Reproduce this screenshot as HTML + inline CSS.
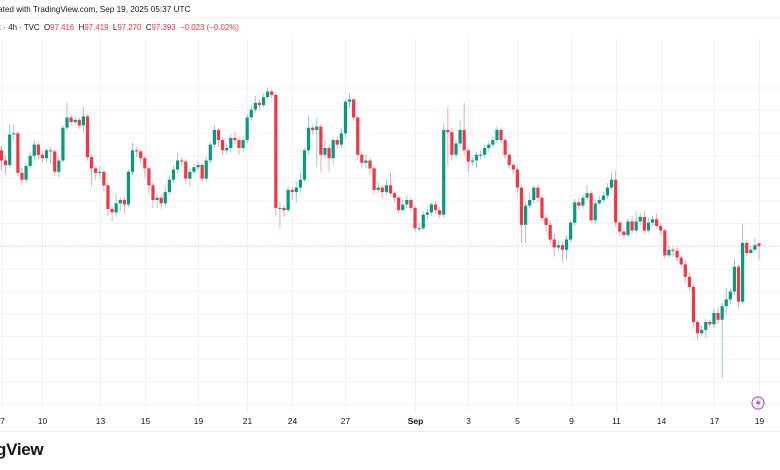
<!DOCTYPE html>
<html><head><meta charset="utf-8"><style>
html,body{margin:0;padding:0;background:#fff;}
#wrap{position:relative;width:780px;height:470px;overflow:hidden;font-family:"Liberation Sans",sans-serif;}
.hdr{position:absolute;left:0;white-space:nowrap;font-size:8px;color:#131722;}
</style></head><body>
<div id="wrap">
<div class="hdr" style="top:5px;left:-2px;font-size:8.2px;">ated with TradingView.com, Sep 19, 2025 05:37 UTC</div>
<div style="position:absolute;left:0;top:17px;width:780px;height:1px;background:#eef0f4;"></div>
<div class="hdr" style="top:23px;left:-1px;font-size:7.9px;">: · 4h · TVC&nbsp; O<span style="color:#f23645">97.416</span>&nbsp; H<span style="color:#f23645">97.419</span>&nbsp; L<span style="color:#f23645">97.270</span>&nbsp; C<span style="color:#f23645">97.393</span>&nbsp; <span style="color:#f23645">−0.023 (−0.02%)</span></div>
<svg id="chart" width="780" height="470" style="position:absolute;left:0;top:0;"></svg>
<div style="position:absolute;left:-4px;top:440px;font-size:17px;font-weight:bold;color:#131722;letter-spacing:-0.3px;">gView</div>
</div>
<script>
const opens=[98.24,98.15,98.11,98.38,98.39,98.04,97.98,98.10,98.19,98.29,98.20,98.17,98.24,98.23,98.05,98.15,98.44,98.53,98.49,98.51,98.46,98.54,98.18,98.08,98.04,98.05,97.93,97.72,97.69,97.77,97.80,97.76,98.05,98.24,98.23,98.17,98.08,97.93,97.80,97.82,97.77,97.87,97.98,98.07,98.15,98.14,97.99,98.05,98.09,98.11,97.99,98.15,98.29,98.42,98.33,98.24,98.26,98.35,98.33,98.26,98.33,98.53,98.60,98.66,98.64,98.71,98.76,98.73,97.73,97.73,97.71,97.89,97.87,97.91,97.98,98.24,98.44,98.42,98.45,98.20,98.26,98.17,98.33,98.29,98.39,98.67,98.69,98.53,98.20,98.13,98.15,98.08,97.89,97.91,97.87,97.93,97.86,97.82,97.71,97.76,97.80,97.73,97.55,97.55,97.67,97.69,97.76,97.71,97.67,98.42,98.40,98.20,98.30,98.42,98.24,98.14,98.15,98.20,98.20,98.26,98.29,98.33,98.42,98.33,98.20,98.11,98.07,97.91,97.58,97.75,97.80,97.91,97.82,97.64,97.58,97.45,97.38,97.40,97.36,97.45,97.60,97.78,97.75,97.82,97.86,97.62,97.77,97.80,97.84,97.91,97.98,97.60,97.52,97.49,97.61,97.53,97.61,97.65,97.53,97.60,97.63,97.57,97.53,97.31,97.36,97.35,97.29,97.23,97.12,97.03,96.72,96.62,96.65,96.72,96.70,96.80,96.74,96.86,96.92,96.99,97.21,96.90,97.42,97.33,97.36,97.416];
const highs=[98.28,98.19,98.47,98.47,98.41,98.08,98.13,98.22,98.33,98.31,98.23,98.26,98.27,98.25,98.18,98.46,98.66,98.56,98.54,98.53,98.63,98.56,98.20,98.10,98.10,98.07,97.95,97.75,97.85,97.82,97.83,98.07,98.31,98.27,98.25,98.19,98.10,97.95,97.86,97.85,97.92,98.02,98.10,98.22,98.18,98.16,98.08,98.12,98.14,98.13,98.18,98.32,98.46,98.44,98.35,98.30,98.38,98.40,98.36,98.36,98.56,98.64,98.72,98.69,98.74,98.79,98.78,98.75,97.78,97.76,97.92,97.91,97.96,98.05,98.26,98.55,98.46,98.53,98.47,98.33,98.28,98.35,98.36,98.44,98.69,98.74,98.70,98.55,98.22,98.20,98.17,98.10,97.96,97.93,97.98,98.05,97.88,97.84,97.80,97.84,97.82,97.75,97.60,97.70,97.72,97.78,97.79,97.74,98.48,98.62,98.44,98.33,98.50,98.66,98.26,98.18,98.22,98.24,98.29,98.32,98.36,98.45,98.44,98.35,98.22,98.13,98.08,97.93,97.78,97.86,97.93,97.94,97.84,97.67,97.62,97.50,97.44,97.43,97.49,97.62,97.81,97.82,97.85,97.93,97.88,97.80,97.84,97.87,97.95,98.05,98.06,97.62,97.55,97.64,97.66,97.70,97.68,97.70,97.64,97.66,97.68,97.60,97.55,97.40,97.38,97.38,97.31,97.27,97.16,97.05,96.74,96.69,96.75,96.74,96.84,96.85,96.89,97.02,97.02,97.28,97.23,97.59,97.45,97.39,97.46,97.419];
const lows=[98.06,98.02,98.09,98.33,98.01,97.93,97.95,98.07,98.14,98.16,98.13,98.14,98.12,98.02,98.00,98.13,98.41,98.46,98.47,98.43,98.40,98.15,97.92,97.98,97.99,97.88,97.66,97.61,97.66,97.70,97.68,97.74,98.02,98.18,98.12,98.00,97.86,97.73,97.73,97.72,97.74,97.85,97.95,98.04,98.10,97.94,97.92,98.02,98.06,97.96,97.96,98.12,98.26,98.27,98.20,98.21,98.22,98.29,98.20,98.22,98.30,98.50,98.57,98.60,98.62,98.69,98.70,97.66,97.55,97.65,97.69,97.80,97.78,97.86,97.96,98.20,98.38,98.10,98.05,98.17,98.05,98.12,98.25,98.26,98.35,98.62,98.50,98.15,98.08,98.08,98.03,97.85,97.86,97.82,97.84,97.84,97.78,97.68,97.69,97.73,97.70,97.52,97.52,97.53,97.63,97.66,97.68,97.64,97.64,98.10,98.15,98.17,98.27,98.20,98.05,98.10,98.08,98.16,98.17,98.23,98.26,98.30,98.30,98.17,98.08,98.03,97.86,97.42,97.42,97.73,97.77,97.78,97.61,97.52,97.42,97.30,97.35,97.25,97.27,97.42,97.57,97.71,97.72,97.80,97.60,97.59,97.75,97.78,97.81,97.89,97.56,97.48,97.46,97.47,97.50,97.51,97.58,97.50,97.51,97.57,97.55,97.49,97.28,97.29,97.30,97.26,97.20,97.07,97.00,96.68,96.56,96.60,96.58,96.67,96.67,96.70,96.22,96.78,96.88,96.96,96.84,96.88,97.30,97.33,97.34,97.270];
const closes=[98.15,98.11,98.38,98.39,98.04,97.98,98.10,98.19,98.29,98.20,98.17,98.24,98.23,98.05,98.15,98.44,98.53,98.49,98.51,98.46,98.54,98.18,98.08,98.04,98.05,97.93,97.72,97.69,97.77,97.80,97.76,98.05,98.24,98.23,98.17,98.08,97.93,97.80,97.82,97.77,97.87,97.98,98.07,98.15,98.14,97.99,98.05,98.09,98.11,97.99,98.15,98.29,98.42,98.33,98.24,98.26,98.35,98.33,98.26,98.33,98.53,98.60,98.66,98.64,98.71,98.76,98.73,97.73,97.73,97.71,97.89,97.87,97.91,97.98,98.24,98.44,98.42,98.45,98.20,98.26,98.17,98.33,98.29,98.39,98.67,98.69,98.53,98.20,98.13,98.15,98.08,97.89,97.91,97.87,97.93,97.86,97.82,97.71,97.76,97.80,97.73,97.55,97.55,97.67,97.69,97.76,97.71,97.67,98.42,98.40,98.20,98.30,98.42,98.24,98.14,98.15,98.20,98.20,98.26,98.29,98.33,98.42,98.33,98.20,98.11,98.07,97.91,97.58,97.75,97.80,97.91,97.82,97.64,97.58,97.45,97.38,97.40,97.36,97.45,97.60,97.78,97.75,97.82,97.86,97.62,97.77,97.80,97.84,97.91,97.98,97.60,97.52,97.49,97.61,97.53,97.61,97.65,97.53,97.60,97.63,97.57,97.53,97.31,97.36,97.35,97.29,97.23,97.12,97.03,96.72,96.62,96.65,96.72,96.70,96.80,96.74,96.86,96.92,96.99,97.21,96.90,97.42,97.33,97.36,97.40,97.393];
const tickLabels=["7","10","13","15","19","21","24","27","Sep","3","5","9","11","14","17","19"];
const tickIndex=[0,10,24,35,48,60,71,84,101,114,126,139,150,161,174,185];
const lastPrice=97.393;

const NS="http://www.w3.org/2000/svg";
const svg=document.getElementById('chart');
const X0=1.5, X1=759, N=closes.length;
function xs(i){return X0+i*(X1-X0)/(N-1);}
function ys(p){return (99.57-p)/0.00885;}
function mk(t,a){const e=document.createElementNS(NS,t);for(const k in a)e.setAttribute(k,a[k]);svg.appendChild(e);return e;}

for(let y=88;y<430;y+=22.6){
  const g=mk('line',{x1:0,x2:780,y1:y.toFixed(1),y2:y.toFixed(1),stroke:'#f2f3f6','stroke-width':1});
  
  
}
tickIndex.forEach((ti,k)=>{
  const x=Math.round(xs(ti))+0.5;
  const g=mk('line',{x1:x,x2:x,y1:38,y2:412,stroke:'#f2f3f6','stroke-width':1});
  
  
  const t=mk('text',{x:x,y:424,'text-anchor':'middle','font-size':'8.5','font-family':'Liberation Sans, sans-serif',fill:'#131722','font-weight':tickLabels[k]==='Sep'?'bold':'normal'});
  t.textContent=tickLabels[k];
  
  
});
const ax=mk('line',{x1:0,x2:780,y1:431.5,y2:431.5,stroke:'#e8eaef','stroke-width':1});



const pl=mk('line',{x1:0,x2:780,y1:ys(lastPrice),y2:ys(lastPrice),stroke:'#f7a8b0','stroke-width':1,'stroke-dasharray':'1,2'});



for(let i=0;i<N;i++){
  const up=closes[i]>=opens[i];
  const col=up?'#089981':'#f23645';
  const x=xs(i);
  const w=mk('line',{x1:x.toFixed(2),x2:x.toFixed(2),y1:ys(highs[i]).toFixed(1),y2:ys(lows[i]).toFixed(1),stroke:col,'stroke-opacity':0.45,'stroke-width':1});
  
  
  const yt=ys(Math.max(opens[i],closes[i])), yb=ys(Math.min(opens[i],closes[i]));
  const b=mk('rect',{x:(x-1.6).toFixed(2),y:yt.toFixed(1),width:3.2,height:Math.max(1,yb-yt).toFixed(1),fill:col});
  
  
}

const c=mk('circle',{cx:758,cy:403,r:6,fill:'none',stroke:'#b45bd6','stroke-width':1.2});


const pth=mk('path',{d:'M759 398 L755.5 404 L758.5 404 L757 408 L761 401.5 L758 401.5 Z',fill:'#b45bd6'});


</script>
</body></html>
